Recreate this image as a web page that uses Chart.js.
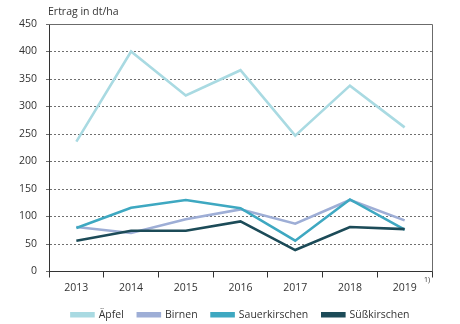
<!DOCTYPE html>
<html>
<head>
<meta charset="utf-8">
<script src="https://cdn.jsdelivr.net/npm/chart.js@4.4.1/dist/chart.umd.min.js"></script>
<style>
  html, body { margin: 0; padding: 0; background: #fff; }
  #wrap { width: 460px; height: 324px; }
</style>
</head>
<body>
<div id="wrap"><canvas id="ertragChart" width="460" height="324"></canvas></div>
<script>
// Jahre und Erträge in dt/ha
var jahre = ["2013", "2014", "2015", "2016", "2017", "2018", "2019"];
var aepfel = [236, 400, 320, 366, 247, 338, 262];
var birnen = [81, 70, 95, 113, 87, 130, 93];
var sauerkirschen = [79, 116, 130, 115, 56, 131, 76];
var suesskirschen = [56, 74, 74, 91, 39, 81, 77];
var yTicks = [0, 50, 100, 150, 200, 250, 300, 350, 400, 450];

var schrift = "'Open Sans', 'Noto Sans', sans-serif";
var textFarbe = '#333333';

function linie(label, data, farbe, reihenfolge) {
    return {
        label: label,
        data: data,
        borderColor: farbe,
        backgroundColor: farbe,
        borderWidth: 2.6,
        pointRadius: 0,
        tension: 0,
        fill: false,
        order: reihenfolge
    };
}

// Rahmen oben/rechts, Achsentitel und Fußnote
var rahmenPlugin = {
    id: 'rahmen',
    afterDraw: function (chart) {
        var ctx = chart.ctx;
        var a = chart.chartArea;
        ctx.save();
        ctx.strokeStyle = '#6b6b6b';
        ctx.lineWidth = 1;
        ctx.beginPath();
        ctx.moveTo(a.left, a.top + 0.5);
        ctx.lineTo(a.right + 0.5, a.top + 0.5);
        ctx.lineTo(a.right + 0.5, a.bottom);
        ctx.stroke();

        ctx.fillStyle = textFarbe;
        ctx.font = '10.5px ' + schrift;
        ctx.textAlign = 'left';
        ctx.textBaseline = 'middle';
        ctx.fillText('Ertrag in dt/ha', a.left - 1, 12);

        ctx.font = '7px ' + schrift;
        ctx.fillText('1)', a.right - 8, 280);
        ctx.restore();
    }
};

var ctx = document.getElementById('ertragChart').getContext('2d');

new Chart(ctx, {
    type: 'line',
    data: {
        labels: jahre,
        datasets: [
            linie('Äpfel', aepfel, '#a9dae2', 3),
            linie('Birnen', birnen, '#9eaed6', 2),
            linie('Sauerkirschen', sauerkirschen, '#3ea8c1', 1),
            linie('Süßkirschen', suesskirschen, '#1c4b58', 0)
        ]
    },
    options: {
        responsive: false,
        animation: false,
        layout: { padding: { top: 24, right: 28, left: 0, bottom: -6 } },
        plugins: {
            title: { display: false },
            tooltip: { enabled: false },
            legend: {
                position: 'bottom',
                fullSize: false,
                labels: {
                    sort: function (a, b) { return a.datasetIndex - b.datasetIndex; },
                    boxWidth: 22,
                    boxHeight: 3,
                    padding: 14,
                    color: textFarbe,
                    font: { family: schrift, size: 10.5 }
                }
            }
        },
        scales: {
            x: {
                offset: true,
                grid: {
                    offset: true,
                    drawOnChartArea: false,
                    drawTicks: true,
                    tickLength: 6,
                    color: '#333333'
                },
                border: { color: '#333333', width: 1 },
                ticks: {
                    color: textFarbe,
                    padding: 4,
                    maxRotation: 0,
                    font: { family: schrift, size: 10.5 }
                },
                afterFit: function (scale) { scale.height = 24; }
            },
            y: {
                min: 0,
                max: 450,
                afterBuildTicks: function (scale) {
                    scale.ticks = yTicks.map(function (v) { return { value: v }; });
                },
                grid: {
                    color: '#6f6f6f',
                    lineWidth: 1,
                    tickLength: 3,
                    drawTicks: true
                },
                border: { color: '#333333', width: 1, dash: [2, 2] },
                ticks: {
                    color: textFarbe,
                    padding: 9,
                    font: { family: schrift, size: 10.5 }
                },
                afterFit: function (scale) { scale.width = 49; }
            }
        }
    },
    plugins: [rahmenPlugin]
});
</script>
</body>
</html>
